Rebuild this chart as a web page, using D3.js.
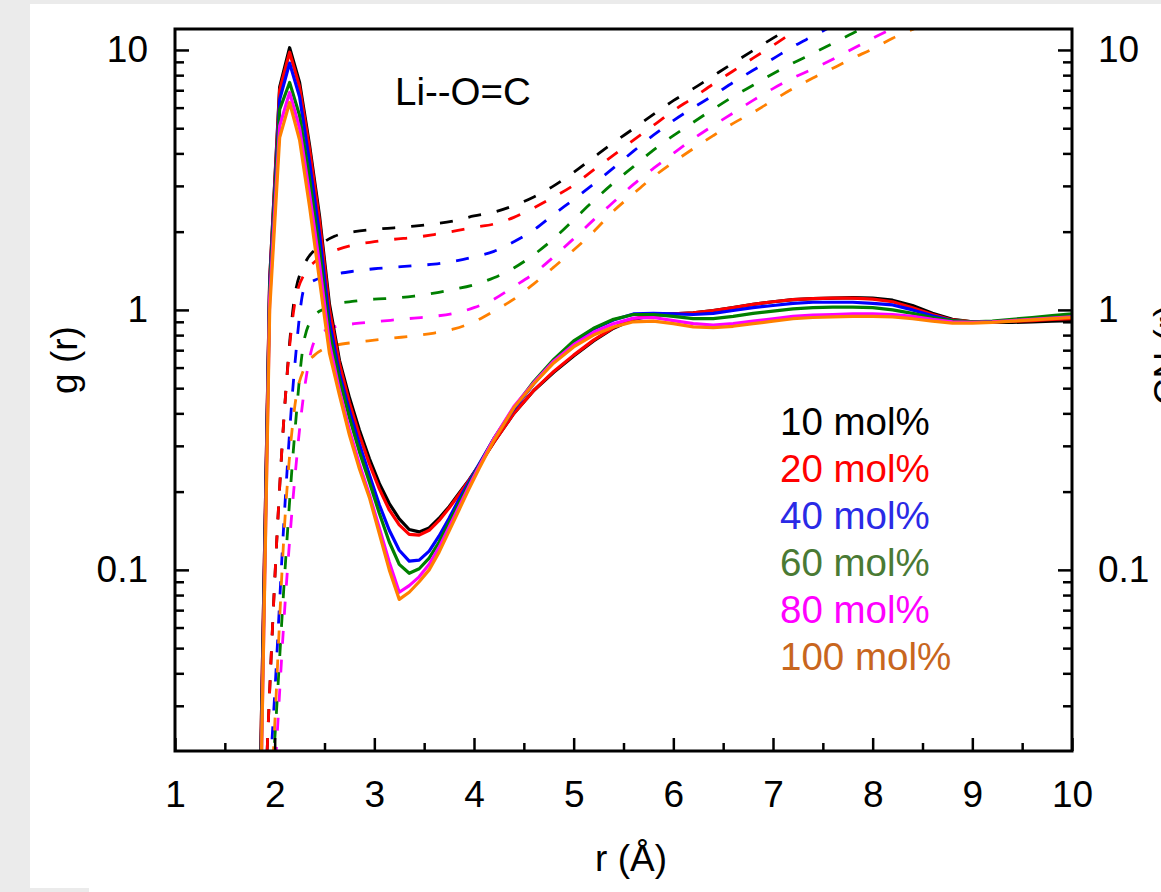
<!DOCTYPE html>
<html>
<head>
<meta charset="utf-8">
<script src="https://cdn.jsdelivr.net/npm/d3@7"></script>
<style>
  body { margin: 0; background: #ebebeb; }
  svg { display: block; }
  text { font-family: "Liberation Sans", Arial, sans-serif; }
</style>
</head>
<body>
<div id="chart"></div>
<script>
// Li--O=C radial distribution g(r) (solid) and coordination number (dashed)

const seriesNames = ['10 mol%', '20 mol%', '40 mol%', '60 mol%', '80 mol%', '100 mol%'];
const lineColors = ['#000000', '#ff0000', '#0000ff', '#008000', '#ff00ff', '#ff8000'];
const legendColors = ['#000000', '#ff0000', '#2a2ae6', '#4a7a34', '#ff00ff', '#c8661e'];

// r values for g(r)
const grR = [1.85, 1.95, 2.05, 2.15, 2.25, 2.35, 2.45, 2.55, 2.65, 2.75, 2.85, 2.95, 3.05,
  3.15, 3.25, 3.35, 3.45, 3.55, 3.65, 3.75, 3.85, 3.95, 4.05,
  4.2, 4.4, 4.6, 4.8, 5.0, 5.2, 5.4, 5.6, 5.8, 6.0, 6.2, 6.4, 6.6, 6.8, 7.0,
  7.2, 7.4, 7.6, 7.8, 8.0, 8.2, 8.4, 8.6, 8.8, 9.0, 9.2, 9.4, 9.6, 9.8, 10.0];

const gr10 = [0.012, 1.3, 7.2, 10.2, 7.5, 4.3, 2.3, 1.05, 0.64, 0.46, 0.345, 0.268, 0.215,
  0.18, 0.157, 0.143, 0.14, 0.145, 0.158, 0.175, 0.197, 0.222, 0.253,
  0.31, 0.40, 0.49, 0.575, 0.665, 0.76, 0.85, 0.92, 0.955, 0.965, 0.975, 0.995, 1.02, 1.05, 1.075,
  1.095, 1.105, 1.11, 1.115, 1.11, 1.09, 1.04, 0.97, 0.92, 0.9, 0.895, 0.895, 0.9, 0.905, 0.91];
const gr20 = [0.012, 1.3, 7.0, 9.8, 7.2, 4.15, 2.2, 1.0, 0.62, 0.44, 0.33, 0.256, 0.205,
  0.17, 0.149, 0.137, 0.136, 0.142, 0.155, 0.173, 0.195, 0.221, 0.252,
  0.31, 0.40, 0.49, 0.58, 0.67, 0.765, 0.855, 0.925, 0.955, 0.965, 0.975, 0.995, 1.02, 1.05, 1.075,
  1.095, 1.105, 1.11, 1.11, 1.1, 1.075, 1.02, 0.96, 0.915, 0.9, 0.9, 0.905, 0.91, 0.92, 0.925];
const gr40 = [0.01, 1.25, 6.45, 8.9, 6.6, 3.7, 1.95, 0.9, 0.57, 0.41, 0.305, 0.232, 0.178,
  0.142, 0.119, 0.108, 0.109, 0.118, 0.135, 0.158, 0.187, 0.218, 0.255,
  0.32, 0.415, 0.52, 0.635, 0.75, 0.845, 0.915, 0.965, 0.97, 0.965, 0.96, 0.97, 0.995, 1.02, 1.04,
  1.06, 1.07, 1.07, 1.07, 1.06, 1.045, 1.0, 0.95, 0.91, 0.895, 0.9, 0.91, 0.925, 0.94, 0.95];
const gr60 = [0.01, 1.2, 5.9, 7.5, 5.6, 3.2, 1.7, 0.82, 0.54, 0.385, 0.285, 0.218, 0.165,
  0.128, 0.105, 0.097, 0.101, 0.111, 0.128, 0.152, 0.181, 0.214, 0.252,
  0.32, 0.42, 0.53, 0.645, 0.76, 0.85, 0.92, 0.96, 0.96, 0.945, 0.925, 0.925, 0.945, 0.97, 0.99,
  1.01, 1.02, 1.025, 1.025, 1.02, 1.0, 0.97, 0.935, 0.91, 0.9, 0.905, 0.92, 0.935, 0.95, 0.965];
const gr80 = [0.008, 1.1, 5.1, 6.86, 5.0, 2.8, 1.5, 0.74, 0.49, 0.345, 0.255, 0.195, 0.145,
  0.107, 0.082, 0.087, 0.094, 0.105, 0.122, 0.146, 0.175, 0.21, 0.25,
  0.32, 0.425, 0.525, 0.635, 0.735, 0.82, 0.885, 0.93, 0.935, 0.91, 0.885, 0.875, 0.885, 0.905, 0.925,
  0.945, 0.955, 0.96, 0.965, 0.965, 0.96, 0.945, 0.92, 0.9, 0.895, 0.9, 0.91, 0.92, 0.93, 0.94];
const gr100 = [0.008, 1.0, 4.6, 6.28, 4.5, 2.5, 1.3, 0.68, 0.47, 0.33, 0.245, 0.19, 0.138,
  0.1, 0.077, 0.082, 0.09, 0.1, 0.117, 0.141, 0.17, 0.205, 0.245,
  0.315, 0.42, 0.52, 0.625, 0.72, 0.8, 0.86, 0.9, 0.905, 0.885, 0.86, 0.855, 0.865, 0.885, 0.905,
  0.925, 0.935, 0.94, 0.945, 0.945, 0.94, 0.925, 0.905, 0.89, 0.89, 0.895, 0.905, 0.915, 0.925, 0.935];

// r values for the coordination number CN(r)
const cnR = [1.9, 2.0, 2.1, 2.2, 2.3, 2.4, 2.5, 2.6, 2.8, 3.0, 3.2, 3.4, 3.6, 3.8, 4.0, 4.2,
  4.4, 4.6, 4.8, 5.0, 5.2, 5.4, 5.6, 5.8, 6.0, 6.2, 6.4, 6.6, 6.8, 7.0, 7.2, 7.4, 7.6, 7.8,
  8.0, 8.2, 8.4, 8.6];

const cn10 = [0.012, 0.09, 0.42, 1.12, 1.5, 1.7, 1.83, 1.92, 2.0, 2.04, 2.07, 2.1, 2.14, 2.2, 2.3, 2.38,
  2.52, 2.72, 3.0, 3.38, 3.86, 4.4, 4.98, 5.65, 6.38, 7.1, 7.95, 8.9, 9.95, 11.1, 12.3, null, null, null,
  null, null, null, null];
const cn20 = [0.012, 0.09, 0.42, 1.05, 1.38, 1.53, 1.63, 1.69, 1.78, 1.83, 1.87, 1.9, 1.95, 2.01, 2.08, 2.14,
  2.27, 2.47, 2.72, 3.02, 3.46, 3.94, 4.5, 5.12, 5.84, 6.55, 7.4, 8.3, 9.3, 10.4, 11.7, 13.0, null, null,
  null, null, null, null];
const cn40 = [0.008, 0.033, 0.17, 0.6, 1.22, 1.3, 1.34, 1.37, 1.41, 1.44, 1.46, 1.48, 1.5, 1.54, 1.6, 1.68,
  1.83, 2.03, 2.33, 2.66, 3.05, 3.52, 4.08, 4.7, 5.35, 6.0, 6.68, 7.5, 8.35, 9.25, 10.3, 11.3, 12.4, null,
  null, null, null, null];
const cn60 = [0.006, 0.022, 0.095, 0.33, 0.78, 0.95, 1.01, 1.05, 1.08, 1.1, 1.11, 1.13, 1.16, 1.2, 1.25, 1.33,
  1.45, 1.63, 1.88, 2.22, 2.63, 3.08, 3.56, 4.12, 4.68, 5.27, 5.92, 6.62, 7.32, 8.1, 8.9, 9.7, 10.6, 11.6,
  12.6, null, null, null];
const cn80 = [0.004, 0.016, 0.07, 0.22, 0.5, 0.76, 0.83, 0.86, 0.885, 0.9, 0.915, 0.93, 0.945, 0.97, 1.02, 1.1,
  1.23, 1.38, 1.6, 1.88, 2.22, 2.6, 3.04, 3.5, 4.0, 4.55, 5.12, 5.72, 6.4, 7.1, 7.8, 8.45, 9.2, 10.1,
  11.1, 12.1, null, null];
const cn100 = [0.004, 0.025, 0.15, 0.42, 0.6, 0.67, 0.71, 0.73, 0.75, 0.765, 0.78, 0.795, 0.815, 0.845, 0.9, 0.99,
  1.1, 1.26, 1.46, 1.7, 2.0, 2.4, 2.8, 3.25, 3.7, 4.17, 4.68, 5.22, 5.75, 6.4, 7.1, 7.8, 8.5, 9.3,
  10.1, 11.1, 12.0, 13.0];

const grSeries = [gr10, gr20, gr40, gr60, gr80, gr100];
const cnSeries = [cn10, cn20, cn40, cn60, cn80, cn100];

// Tick values
const xMajorTicks = [1, 2, 3, 4, 5, 6, 7, 8, 9, 10];
const xMinorTicks = [1.5, 2.5, 3.5, 4.5, 5.5, 6.5, 7.5, 8.5, 9.5];
const yMajorTicks = [0.1, 1, 10];
const yMinorTicks = [0.03, 0.04, 0.05, 0.06, 0.07, 0.08, 0.09,
  0.2, 0.3, 0.4, 0.5, 0.6, 0.7, 0.8, 0.9, 2, 3, 4, 5, 6, 7, 8, 9];

const W = 1161, H = 892;
const plot = { left: 175, right: 1072, top: 29, bottom: 751 };
const fontSize = 37;
const labelFontSize = 38.5;

const svg = d3.select('#chart')
  .append('svg')
  .attr('width', W)
  .attr('height', H);

// Page background: grey border with a white panel
svg.append('rect').attr('width', W).attr('height', H).attr('fill', '#ebebeb');
svg.append('rect').attr('x', 30).attr('y', 4).attr('width', W - 30).attr('height', H - 4).attr('fill', '#ffffff');
svg.append('rect').attr('x', 0).attr('y', 888).attr('width', 89).attr('height', 4).attr('fill', '#ebebeb');

const x = d3.scaleLinear().domain([1, 10]).range([plot.left, plot.right]);
const y = d3.scaleLog().domain([0.0201, 12.04]).range([plot.bottom, plot.top]);

svg.append('clipPath').attr('id', 'plot-clip')
  .append('rect')
  .attr('x', plot.left).attr('y', plot.top)
  .attr('width', plot.right - plot.left).attr('height', plot.bottom - plot.top);

const lineGroup = svg.append('g').attr('clip-path', 'url(#plot-clip)');

const grLine = d3.line()
  .x((d, i) => x(grR[i]))
  .y(d => y(d));

const cnLine = d3.line()
  .defined(d => d != null)
  .x((d, i) => x(cnR[i]))
  .y(d => y(d))
  .curve(d3.curveMonotoneX);

// Dashed coordination numbers
cnSeries.forEach((s, k) => {
  lineGroup.append('path')
    .attr('d', cnLine(s))
    .attr('fill', 'none')
    .attr('stroke', lineColors[k])
    .attr('stroke-width', 2.8)
    .attr('stroke-dasharray', '13,16');
});

// Solid g(r)
grSeries.forEach((s, k) => {
  lineGroup.append('path')
    .attr('d', grLine(s))
    .attr('fill', 'none')
    .attr('stroke', lineColors[k])
    .attr('stroke-width', 3.2)
    .attr('stroke-linejoin', 'round');
});

// Axes with inward ticks
function styleAxis(g) {
  g.select('.domain').remove();
  g.selectAll('.tick line').attr('stroke', '#000').attr('stroke-width', 2.5);
  g.selectAll('.tick text')
    .attr('fill', '#000')
    .style('font-size', fontSize + 'px')
    .style('font-family', '"Liberation Sans", Arial, sans-serif');
}

svg.append('g')
  .attr('transform', `translate(0,${plot.bottom})`)
  .call(d3.axisBottom(x).tickValues(xMajorTicks).tickFormat(d3.format('d'))
    .tickSizeInner(-13).tickSizeOuter(0).tickPadding(30))
  .call(styleAxis);
svg.append('g')
  .attr('transform', `translate(0,${plot.bottom})`)
  .call(d3.axisBottom(x).tickValues(xMinorTicks).tickFormat('')
    .tickSizeInner(-8).tickSizeOuter(0))
  .call(styleAxis);

const yLabel = d => (d >= 1 ? d3.format('d')(d) : String(d));

svg.append('g')
  .attr('transform', `translate(${plot.left},0)`)
  .call(d3.axisLeft(y).tickValues(yMajorTicks).tickFormat(yLabel)
    .tickSizeInner(-14).tickSizeOuter(0).tickPadding(27))
  .call(styleAxis);
svg.append('g')
  .attr('transform', `translate(${plot.left},0)`)
  .call(d3.axisLeft(y).tickValues(yMinorTicks).tickFormat('')
    .tickSizeInner(-9).tickSizeOuter(0))
  .call(styleAxis);

svg.append('g')
  .attr('transform', `translate(${plot.right},0)`)
  .call(d3.axisRight(y).tickValues(yMajorTicks).tickFormat(yLabel)
    .tickSizeInner(-14).tickSizeOuter(0).tickPadding(26))
  .call(styleAxis);
svg.append('g')
  .attr('transform', `translate(${plot.right},0)`)
  .call(d3.axisRight(y).tickValues(yMinorTicks).tickFormat('')
    .tickSizeInner(-9).tickSizeOuter(0))
  .call(styleAxis);

// Plot frame
svg.append('rect')
  .attr('x', plot.left).attr('y', plot.top)
  .attr('width', plot.right - plot.left).attr('height', plot.bottom - plot.top)
  .attr('fill', 'none')
  .attr('stroke', '#000')
  .attr('stroke-width', 3);

// Axis titles
svg.append('text')
  .attr('x', 631).attr('y', 871)
  .attr('text-anchor', 'middle')
  .style('font-size', fontSize + 'px')
  .text('r (Å)');

svg.append('text')
  .attr('transform', 'translate(77,360) rotate(-90)')
  .attr('text-anchor', 'middle')
  .style('font-size', fontSize + 'px')
  .text('g (r)');

// Right-hand title, cut by the picture edge as in the original
svg.append('text')
  .attr('transform', 'translate(1180,355) rotate(-90)')
  .attr('text-anchor', 'middle')
  .style('font-size', fontSize + 'px')
  .text('CN (r)');

// Panel label
svg.append('text')
  .attr('x', 395).attr('y', 105)
  .style('font-size', labelFontSize + 'px')
  .text('Li--O=C');

// Legend
svg.selectAll('.legend-item')
  .data(seriesNames)
  .enter()
  .append('text')
  .attr('class', 'legend-item')
  .attr('x', 780)
  .attr('y', (d, i) => 435 + i * 47)
  .attr('fill', (d, i) => legendColors[i])
  .style('font-size', labelFontSize + 'px')
  .text(d => d);
</script>
</body>
</html>
